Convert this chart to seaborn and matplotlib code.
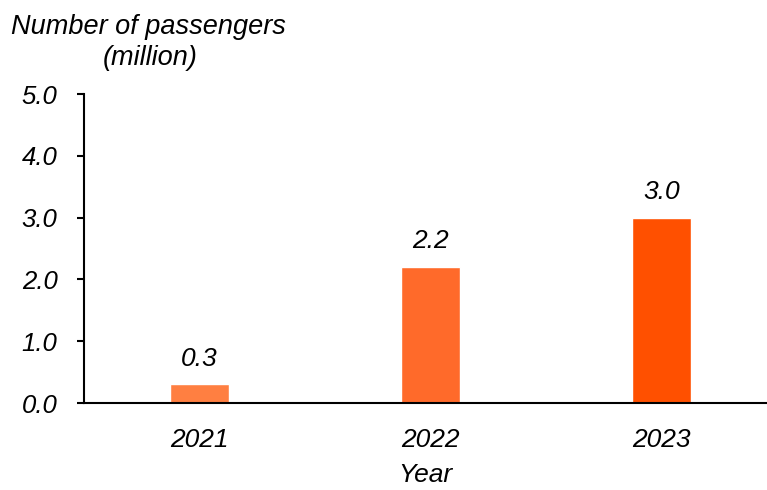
import pandas as pd
import matplotlib.pyplot as plt
import seaborn as sns

# data
years = ['2021', '2022', '2023']
passengers = [0.3, 2.2, 3.0]
bar_colors = ['#FF7F41', '#FF6A2A', '#FF5000']

df = pd.DataFrame({'Year': years, 'Passengers': passengers})

sns.set_style('white')
plt.rcParams['font.family'] = ['Liberation Sans', 'DejaVu Sans']
plt.rcParams['font.style'] = 'italic'
plt.rcParams['text.color'] = 'black'
plt.rcParams['xtick.color'] = 'black'
plt.rcParams['ytick.color'] = 'black'

fig = plt.figure(figsize=(7.67, 4.9), dpi=100)
ax = fig.add_axes([84 / 767, 87 / 490, 1 - 84 / 767, 309 / 490])

sns.barplot(data=df, x='Year', y='Passengers', hue='Year', saturation=1,
            palette=bar_colors, width=0.255, legend=False, ax=ax)

# value labels above each bar
for i, v in enumerate(passengers):
    ax.text(i, v + 0.22, f'{v:.1f}', ha='center', va='bottom',
            fontsize=19, style='italic', color='black')

ax.set_ylim(0, 5)
ax.set_xlim(-0.5, 2.457)
ax.set_yticks([0, 1, 2, 3, 4, 5])
ax.set_yticklabels([f'{t:.1f}' for t in range(6)])

sns.despine(ax=ax, top=True, right=True)
for side in ['left', 'bottom']:
    ax.spines[side].set_color('black')
    ax.spines[side].set_linewidth(1.5)

ax.tick_params(axis='y', direction='out', length=5, width=1.5, color='black',
               labelsize=18.5, pad=14, left=True)
ax.tick_params(axis='x', length=0, labelsize=19, pad=18)
for lbl in ax.get_xticklabels() + ax.get_yticklabels():
    lbl.set_style('italic')

ax.set_xlabel('Year', fontsize=19, style='italic', labelpad=8, color='black')
ax.set_ylabel('')

fig.text(148 / 767, 1 - 27 / 490, 'Number of passengers', ha='center', va='center',
         fontsize=19.5, style='italic')
fig.text(150 / 767, 1 - 58 / 490, '(million)', ha='center', va='center',
         fontsize=19.5, style='italic')

fig.savefig('out.png', dpi=100)
